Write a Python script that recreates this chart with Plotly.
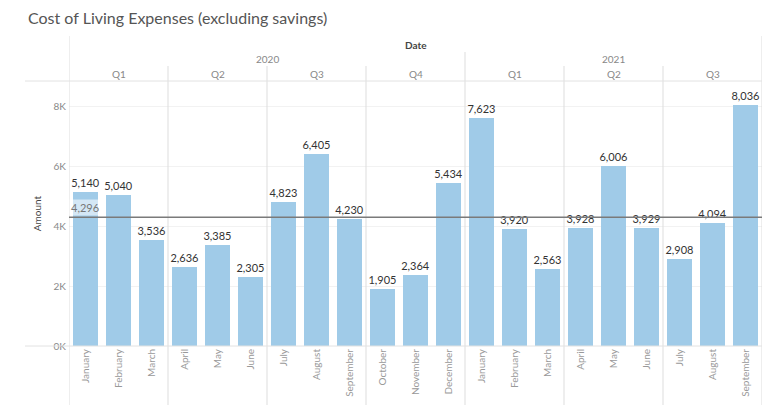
import plotly.graph_objects as go

months = ["January", "February", "March", "April", "May", "June", "July",
          "August", "September", "October", "November", "December",
          "January", "February", "March", "April", "May", "June", "July",
          "August", "September"]
years = ["2020"] * 12 + ["2021"] * 9
quarters = ["Q1", "Q1", "Q1", "Q2", "Q2", "Q2", "Q3", "Q3", "Q3", "Q4", "Q4", "Q4",
            "Q1", "Q1", "Q1", "Q2", "Q2", "Q2", "Q3", "Q3", "Q3"]
amounts = [5140, 5040, 3536, 2636, 3385, 2305, 4823, 6405, 4230, 1905, 2364, 5434,
           7623, 3920, 2563, 3928, 6006, 3929, 2908, 4094, 8036]
y_ticks = [0, 2000, 4000, 6000, 8000]
y_tick_text = ["0K", "2K", "4K", "6K", "8K"]

FONT = "Lato"
idx = list(range(len(months)))
avg = sum(amounts) / len(amounts)

W, H = 768, 411
ML, MR, MT, MB = 69, 6, 81, 65
PH = H - MT - MB

def py(px):  # pixel y -> paper y
    return 1 + (MT - px) / PH

fig = go.Figure()
fig.add_trace(go.Bar(
    x=idx, y=amounts, width=0.76,
    marker=dict(color="#A0CBE8", line=dict(width=0)),
    texttemplate="%{y:,}", textposition="outside", constraintext="none",
    cliponaxis=False,
    textfont=dict(family=FONT, size=11, color="#333333"),
    hoverinfo="skip",
))

shapes = []
n = len(months)
for i in range(n + 1):
    if i == 0 or i == n:
        top = py(36)
    elif years[i] != years[i - 1]:
        top = py(52)
    elif quarters[i] != quarters[i - 1]:
        top = py(66)
    else:
        continue
    shapes.append(dict(type="line", xref="x", yref="paper", x0=i - 0.5, x1=i - 0.5,
                       y0=py(405), y1=top, line=dict(color="#DDDDDD", width=1), layer="above"))
left_px = (25 - ML) / (W - ML - MR)
for yy in [1, 0]:
    shapes.append(dict(type="line", xref="paper", yref="paper", x0=left_px, x1=1,
                       y0=yy, y1=yy, line=dict(color="#E2E2E2", width=1), layer="above"))
shapes.append(dict(type="line", xref="paper", yref="y", x0=0, x1=1, y0=avg, y1=avg,
                   line=dict(color="#7A7A7A", width=1.5), layer="above"))

ann = []
ann.append(dict(text="<b>Date</b>", xref="paper", yref="paper", x=0.5, y=py(45),
                yanchor="middle", showarrow=False,
                font=dict(family=FONT, size=10, color="#444444")))
for yv in sorted(set(years)):
    members = [i for i in idx if years[i] == yv]
    ann.append(dict(text=yv, xref="x", yref="paper", x=(members[0] + members[-1]) / 2,
                    y=py(59), yanchor="middle", showarrow=False,
                    font=dict(family=FONT, size=10, color="#888888")))
i = 0
while i < n:
    j = i
    while j + 1 < n and quarters[j + 1] == quarters[i] and years[j + 1] == years[i]:
        j += 1
    ann.append(dict(text=quarters[i], xref="x", yref="paper", x=(i + j) / 2, y=py(74),
                    yanchor="middle", showarrow=False,
                    font=dict(family=FONT, size=10, color="#888888")))
    i = j + 1
ann.append(dict(text=f"{avg:,.0f}", xref="paper", yref="y", x=0, y=avg, xanchor="left",
                yanchor="bottom", showarrow=False, bgcolor="rgba(255,255,255,0.55)",
                borderpad=1, yshift=1,
                font=dict(family=FONT, size=11, color="#777777")))

fig.update_layout(
    width=W, height=H,
    margin=dict(l=ML, r=MR, t=MT, b=MB, autoexpand=False),
    paper_bgcolor="white", plot_bgcolor="white",
    showlegend=False, bargap=0,
    title=dict(text="Cost of Living Expenses (excluding savings)", x=28 / W, xanchor="left",
               y=1 - 18 / H, yanchor="middle",
               font=dict(family=FONT, size=16, color="#555555")),
    xaxis=dict(range=[-0.5, n - 0.5], tickvals=idx, ticktext=months, tickangle=-90,
               showgrid=False, zeroline=False, showline=False, ticks="",
               tickfont=dict(family=FONT, size=10, color="#999999"), fixedrange=True),
    yaxis=dict(range=[0, 8850], tickvals=y_ticks, ticktext=y_tick_text,
               showgrid=True, gridcolor="#F2F2F2", zeroline=False, showline=False,
               ticks="", ticklabelstandoff=2,
               tickfont=dict(family=FONT, size=10, color="#888888"),
               title=dict(text="Amount", standoff=10,
                          font=dict(family=FONT, size=10, color="#444444"))),
    shapes=shapes, annotations=ann,
)

fig.write_html("out.html", config={"displayModeBar": False},
               post_script="document.body.style.margin='0';document.body.style.overflow='hidden';")
